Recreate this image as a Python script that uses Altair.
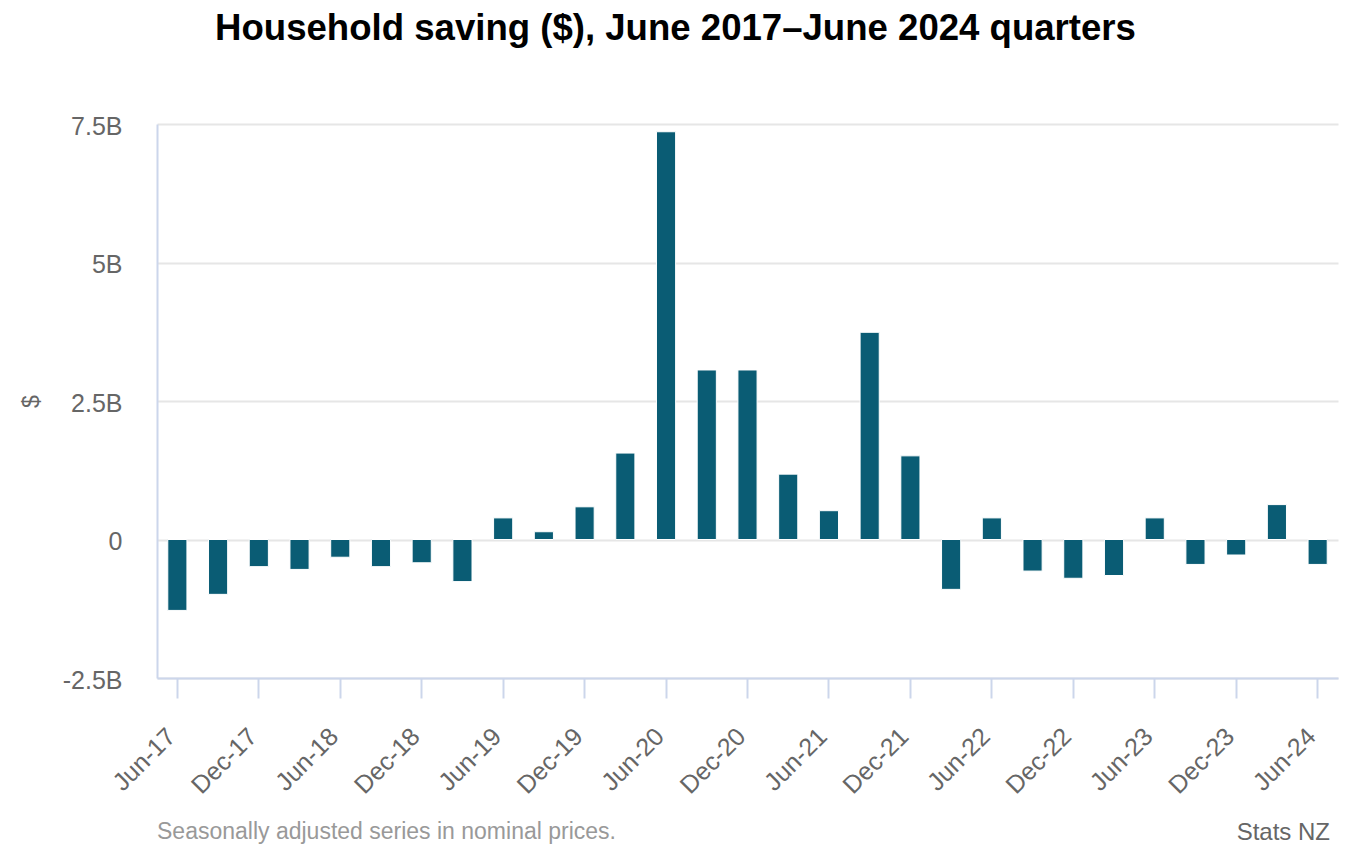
import altair as alt
import pandas as pd

title_text = "Household saving ($), June 2017\u2013June 2024 quarters"
footer_note = "Seasonally adjusted series in nominal prices."
credit_text = "Stats NZ"
y_title = "$"

quarters = [
    "Jun-17", "Sep-17", "Dec-17", "Mar-18", "Jun-18", "Sep-18", "Dec-18", "Mar-19",
    "Jun-19", "Sep-19", "Dec-19", "Mar-20", "Jun-20", "Sep-20", "Dec-20", "Mar-21",
    "Jun-21", "Sep-21", "Dec-21", "Mar-22", "Jun-22", "Sep-22", "Dec-22", "Mar-23",
    "Jun-23", "Sep-23", "Dec-23", "Mar-24", "Jun-24",
]
saving_billions = [
    -1.28, -0.99, -0.49, -0.54, -0.32, -0.49, -0.42, -0.76,
    0.39, 0.14, 0.59, 1.56, 7.36, 3.06, 3.06, 1.18,
    0.52, 3.74, 1.51, -0.90, 0.39, -0.57, -0.70, -0.65,
    0.39, -0.45, -0.28, 0.63, -0.45,
]
x_tick_labels = quarters[::2]
y_tick_values = [-2.5, 0, 2.5, 5, 7.5]

df = pd.DataFrame({"quarter": quarters, "saving": saving_billions})

FONT = "Liberation Sans"
W, H = 1181, 554

bars = alt.Chart(df).mark_bar(color="#0a5c74", stroke="white", strokeWidth=1).encode(
    x=alt.X(
        "quarter:N",
        sort=quarters,
        scale=alt.Scale(domain=quarters, paddingInner=0.53, paddingOuter=0.265),
        axis=alt.Axis(
            values=x_tick_labels, title=None, labelAngle=-45, labelAlign="right",
            labelBaseline="middle", labelFontSize=25, labelColor="#666666", labelFont=FONT,
            labelPadding=34, labelOffset=-6, tickSize=20, tickColor="#ccd6eb", tickWidth=2,
            domainColor="#ccd6eb", domainWidth=2, grid=False, labelOverlap=False,
        ),
    ),
    y=alt.Y(
        "saving:Q",
        scale=alt.Scale(domain=[-2.5, 7.5], nice=False, zero=False),
        axis=alt.Axis(
            values=y_tick_values,
            labelExpr="datum.value == 0 ? '0' : datum.value + 'B'",
            labelFontSize=25, labelColor="#666666", labelFont=FONT,
            labelPadding=35, labelOffset=2, ticks=False, tickSize=0,
            domainColor="#ccd6eb", domainWidth=2,
            grid=True, gridColor="#e6e6e6", gridWidth=2,
            title=y_title, titleFont=FONT, titleFontSize=23, titleFontWeight="normal",
            titleColor="#666666", titleX=-126, titleY=H / 2, titleAngle=-90,
            titleAlign="center", titleBaseline="middle",
        ),
    ),
)

note = alt.Chart(alt.Data(values=[{"t": footer_note}])).mark_text(
    font=FONT, fontSize=23, color="#999999", align="left", baseline="alphabetic"
).encode(x=alt.value(0), y=alt.value(715), text="t:N")

credit = alt.Chart(alt.Data(values=[{"t": credit_text}])).mark_text(
    font=FONT, fontSize=24, color="#666666", align="right", baseline="alphabetic"
).encode(x=alt.value(1173), y=alt.value(716), text="t:N")

chart = alt.layer(bars, note, credit).properties(
    width=W, height=H,
    title=alt.TitleParams(
        text=title_text, font=FONT, fontSize=36.6, fontWeight="bold", color="#000000",
        anchor="middle", frame="group", dx=-72, offset=66,
    ),
    autosize=alt.AutoSizeParams(type="none"),
    padding={"left": 149, "top": 116, "right": 5, "bottom": 170},
).configure_view(stroke=None)

chart.save("out.html", embed_options={"renderer": "svg", "actions": False})
